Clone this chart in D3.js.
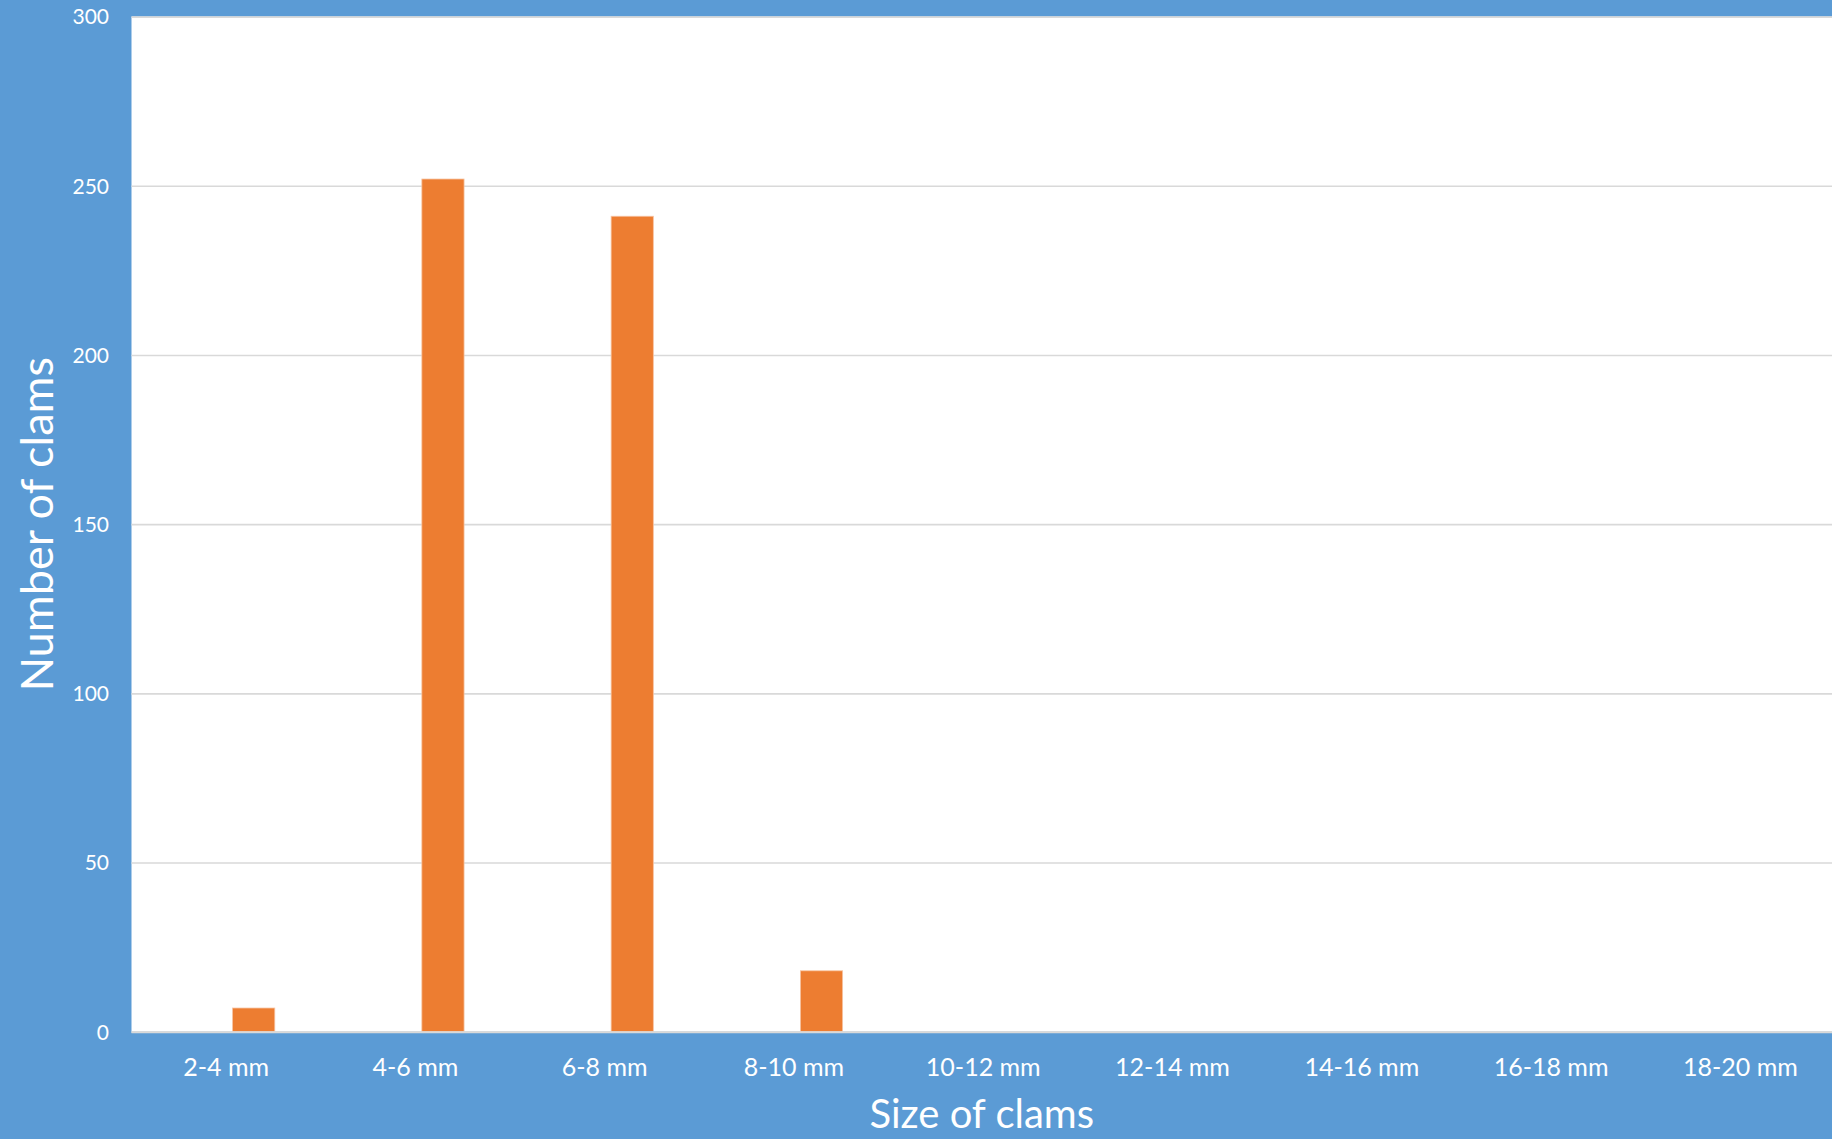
<!DOCTYPE html>
<html>
<head>
<meta charset="utf-8">
<script src="https://cdn.jsdelivr.net/npm/d3@7/dist/d3.min.js"></script>
<style>
  html, body { margin: 0; padding: 0; background: #5B9BD5; }
  svg { display: block; }
  text { font-family: Lato, "Open Sans", "DejaVu Sans", sans-serif; fill: #ffffff; }
</style>
</head>
<body>
<svg id="chart" width="1832" height="1139"></svg>
<script>
// ---- data ----
const categories = ["2-4 mm", "4-6 mm", "6-8 mm", "8-10 mm", "10-12 mm", "12-14 mm", "14-16 mm", "16-18 mm", "18-20 mm"];
const counts = [7, 252, 241, 18, 0, 0, 0, 0, 0];
const yTicks = [0, 50, 100, 150, 200, 250, 300];
const yTitle = "Number of clams";
const xTitle = "Size of clams";

// ---- layout ----
const W = 1832, H = 1139;
const plot = { left: 131.5, right: 1835, top: 16.6, bottom: 1031.7 };

const svg = d3.select("#chart");

svg.append("rect").attr("x", 0).attr("y", 0).attr("width", W).attr("height", H).attr("fill", "#5B9BD5");

const x = d3.scaleBand().domain(categories).range([plot.left, plot.right]).paddingInner(0).paddingOuter(0);
const y = d3.scaleLinear().domain([0, 300]).range([plot.bottom, plot.top]);

// plot area
svg.append("rect")
  .attr("x", plot.left).attr("y", plot.top)
  .attr("width", W - plot.left).attr("height", plot.bottom - plot.top)
  .attr("fill", "#ffffff");

// gridlines
const grid = svg.append("g")
  .attr("transform", `translate(${plot.left},0)`)
  .call(d3.axisLeft(y).tickValues(yTicks).tickSize(-(W - plot.left)).tickFormat(""));
grid.select(".domain").remove();
grid.selectAll(".tick line").attr("stroke", "#d9d9d9").attr("stroke-width", 1.6);

// y tick labels
const yAxis = svg.append("g")
  .attr("transform", `translate(109,0)`)
  .call(d3.axisLeft(y).tickValues(yTicks).tickSize(0).tickPadding(0));
yAxis.select(".domain").remove();
yAxis.selectAll(".tick text")
  .attr("fill", "#ffffff")
  .style("font-family", "Lato, 'Open Sans', sans-serif")
  .style("font-size", "21px")
  .attr("text-anchor", "end")
  .attr("dy", "0.35em");

// bars
const bw = x.bandwidth();
svg.append("g").selectAll("rect")
  .data(categories.map((c, i) => ({ c, v: counts[i] })).filter(d => d.v > 0))
  .join("rect")
  .attr("x", d => x(d.c) + bw * 0.534)
  .attr("width", bw * 0.223)
  .attr("y", d => y(d.v))
  .attr("height", d => y(0) - y(d.v))
  .attr("fill", "#ED7D31")
  .attr("stroke", "#f7c4a2")
  .attr("stroke-width", 0.8);

// x axis
const xAxis = svg.append("g")
  .attr("transform", `translate(0,${plot.bottom})`)
  .call(d3.axisBottom(x).tickSize(0).tickPadding(0));
xAxis.select(".domain").attr("stroke", "#d9d9d9").attr("stroke-width", 2)
  .attr("d", `M${plot.left},0.5H${W}`);
xAxis.selectAll(".tick text")
  .attr("fill", "#ffffff")
  .style("font-family", "Lato, 'Open Sans', sans-serif")
  .style("font-size", "25px")
  .attr("y", 44.5)
  .attr("dy", 0);

// axis titles
svg.append("text")
  .attr("transform", `translate(53,${(plot.top + plot.bottom) / 2}) rotate(-90)`)
  .attr("text-anchor", "middle")
  .style("font-size", "45px")
  .text(yTitle);

svg.append("text")
  .attr("x", (plot.left + W) / 2)
  .attr("y", 1128)
  .attr("text-anchor", "middle")
  .style("font-size", "40px")
  .text(xTitle);
</script>
</body>
</html>
